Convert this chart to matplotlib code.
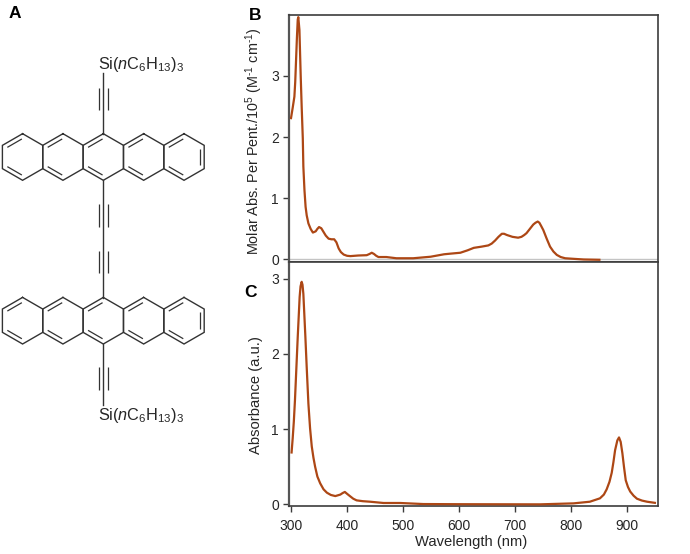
#!/usr/bin/env python3
"""Pentacene dimer figure: structure (A), solution absorption (B), film absorbance (C)."""

import matplotlib
matplotlib.use("Agg")
import matplotlib.pyplot as plt
import numpy as np

# panel B: molar absorptivity per pentacene
wl_b = [300, 303, 306, 307.5, 309, 310.5, 312, 313, 315, 317.3, 319, 321, 322, 324, 326, 328, 331, 335, 339,
        344, 347, 350, 354, 358, 362, 367, 372, 377, 381, 385, 389, 394, 400, 406, 420, 435, 440, 444, 448, 452, 456,
        470, 488, 518, 549, 573, 584, 602, 615, 626, 640, 652, 658, 664, 670, 676, 680, 685, 695, 705, 711, 716, 720, 726, 732,
        736, 740, 743, 746, 750, 756, 762, 768, 774, 781, 789, 805, 822, 850]
abs_b = [2.31, 2.48, 2.66, 2.90, 3.26, 3.62, 3.92, 3.96, 3.75, 2.99, 2.50, 1.98, 1.52, 1.13, 0.86, 0.72, 0.59, 0.50, 0.44,
         0.46, 0.50, 0.53, 0.51, 0.45, 0.39, 0.34, 0.33, 0.33, 0.28, 0.18, 0.12, 0.08, 0.06, 0.055, 0.065, 0.07, 0.09, 0.11, 0.09, 0.06, 0.04,
         0.04, 0.02, 0.02, 0.045, 0.085, 0.095, 0.11, 0.15, 0.19, 0.21, 0.23, 0.26, 0.31, 0.37, 0.42, 0.42, 0.40, 0.37, 0.356, 0.37, 0.40, 0.43, 0.50, 0.57,
         0.60, 0.62, 0.60, 0.55, 0.48, 0.34, 0.21, 0.13, 0.075, 0.04, 0.02, 0.01, 0.0, -0.005]

# panel C: film absorbance
wl_c = [301, 303, 305, 307, 309, 312, 315.4, 317, 319, 320.5, 322, 325.6, 328, 331, 334, 337, 340, 343, 347, 352, 358, 364, 371, 379,
        388, 392, 396, 400, 405, 411, 417, 428, 441, 465, 495, 536, 596, 744, 804, 833, 851, 858, 863, 868, 872, 875, 878, 882, 885,
        888, 891, 894, 897, 901, 905, 911, 917, 926, 935, 949]
abs_c = [0.69, 0.88, 1.10, 1.38, 1.72, 2.23, 2.76, 2.90, 2.96, 2.92, 2.80, 2.23, 1.82, 1.34, 1.01, 0.77, 0.62, 0.50, 0.37, 0.28, 0.20, 0.155, 0.125, 0.11,
         0.13, 0.15, 0.165, 0.14, 0.11, 0.075, 0.053, 0.042, 0.035, 0.018, 0.018, 0.004, 0.002, 0.0, 0.013, 0.035, 0.08, 0.13, 0.20, 0.30, 0.42, 0.56, 0.72, 0.85, 0.89,
         0.83, 0.68, 0.49, 0.32, 0.23, 0.17, 0.115, 0.075, 0.05, 0.035, 0.02]

xticks = [300, 400, 500, 600, 700, 800, 900]
yticks_b = [0, 1, 2, 3]
yticks_c = [0, 1, 2, 3]

W, H = 690, 554
LINE = "#ad4715"
SPINE = "#3c3c3c"
TEXT = "#262626"
BOND = "#333333"

plt.rcParams["font.family"] = ["Liberation Sans", "DejaVu Sans"]
plt.rcParams["mathtext.fontset"] = "custom"
plt.rcParams["mathtext.rm"] = "Liberation Sans"
plt.rcParams["mathtext.it"] = "Liberation Sans:italic"
plt.rcParams["mathtext.default"] = "regular"


def axes_px(fig, left, top, right, bottom, **kw):
    return fig.add_axes([left / W, 1 - bottom / H, (right - left) / W, (bottom - top) / H], **kw)


def style(ax):
    for s in ax.spines.values():
        s.set_color(SPINE)
        s.set_linewidth(1.2)
    ax.spines["left"].set_color("#555555")
    ax.spines["left"].set_linewidth(1.6)
    ax.tick_params(length=4.2, width=1.0, color=SPINE, labelsize=10, labelcolor=TEXT)
    ax.tick_params(axis="y", pad=3)
    ax.tick_params(axis="x", pad=5.5)


def hexagon(cx, cy, a):
    # vertices clockwise from the top, y pointing down
    ang = np.radians([-90, -30, 30, 90, 150, 210])
    return np.c_[cx + a * np.cos(ang), cy + a * np.sin(ang)]


def inner_bond(ax, p, q, centre, inset=4.2, trim=0.14):
    # second stroke of a double bond, pulled toward the ring centre
    mid = (p + q) / 2
    n = (centre - mid) / np.linalg.norm(centre - mid)
    a = p + (q - p) * trim + n * inset
    b = q - (q - p) * trim + n * inset
    ax.plot([a[0], b[0]], [a[1], b[1]], color=BOND, lw=0.9, solid_capstyle="butt")


def pentacene(ax, cx, cy, a=23.3):
    step = 2 * a * np.cos(np.radians(30))
    for i in range(5):
        c = np.array([cx + (i - 2) * step, cy])
        v = hexagon(c[0], c[1], a)
        ax.plot(*np.r_[v, v[:1]].T, color=BOND, lw=1.0, solid_joinstyle="miter")
        # upper-left and lower-left edges, plus the far right edge on the last ring
        edges = [5, 3] if i < 4 else [5, 3, 1]
        for e in edges:
            inner_bond(ax, v[e], v[(e + 1) % 6], c)


def triple(ax, x, y0, y1):
    for dx in (-4.4, 4.4):
        ax.plot([x + dx, x + dx], [y0, y1], color=BOND, lw=0.9, solid_capstyle="butt")


def draw_structure(fig):
    ax = fig.add_axes([0, 0, 1, 1], facecolor="none")
    ax.set_xlim(0, W)
    ax.set_ylim(H, 0)
    ax.axis("off")
    ax.set_zorder(-1)
    x = 103.3
    pentacene(ax, x, 157)
    pentacene(ax, x, 320.7)
    ax.plot([x, x], [73, 134], color=BOND, lw=1.0)
    ax.plot([x, x], [180, 297.7], color=BOND, lw=1.0)
    ax.plot([x, x], [343.7, 405], color=BOND, lw=1.0)
    triple(ax, x, 88, 110)
    triple(ax, x, 204, 227)
    triple(ax, x, 251, 273)
    triple(ax, x, 367, 390)
    label = r"Si($\mathit{n}$C$_6$H$_{13}$)$_3$"
    ax.text(98, 65, label, fontsize=11.7, color=TEXT, ha="left", va="center")
    ax.text(98, 415.5, label, fontsize=11.7, color=TEXT, ha="left", va="center")


fig = plt.figure(figsize=(W / 100, H / 100), dpi=100)
draw_structure(fig)

ax_b = axes_px(fig, 289, 15, 657.7, 261.5)
ax_b.axhline(0, color="#c4c4c4", lw=1.0, zorder=1)
ax_b.plot(wl_b, abs_b, color=LINE, lw=1.6, solid_joinstyle="round", zorder=3)
ax_b.set_xlim(296.4, 954)
ax_b.set_ylim(-0.033, 3.995)
ax_b.set_yticks(yticks_b)
ax_b.set_xticks([])
style(ax_b)
ax_b.set_ylabel(r"Molar Abs. Per Pent./10$^{5}$ (M$^{\text{-}1}$ cm$^{\text{-}1}$)", fontsize=10.4, color=TEXT)
ax_b.yaxis.set_label_coords(265 / W, 1 - 141 / H, transform=fig.transFigure)

ax_c = axes_px(fig, 289, 261.5, 657.7, 506)
ax_c.plot(wl_c, abs_c, color=LINE, lw=1.6, solid_joinstyle="round", zorder=3)
ax_c.set_xlim(296.4, 954)
ax_c.set_ylim(-0.022, 3.23)
ax_c.set_xticks(xticks)
ax_c.set_yticks(yticks_c)
style(ax_c)
ax_c.set_xlabel("Wavelength (nm)", fontsize=10.6, color=TEXT)
ax_c.xaxis.set_label_coords(471 / W, 1 - 535 / H, transform=fig.transFigure)
ax_c.set_ylabel("Absorbance (a.u.)", fontsize=10.6, color=TEXT)
ax_c.yaxis.set_label_coords(263 / W, 1 - 395 / H, transform=fig.transFigure)

for letter, x, y in [("A", 9, 13), ("B", 249, 15), ("C", 244, 292)]:
    fig.text(x / W, 1 - y / H, letter, fontsize=12.5, fontweight="bold", color="black", va="center")

fig.savefig("out.png", dpi=100)
